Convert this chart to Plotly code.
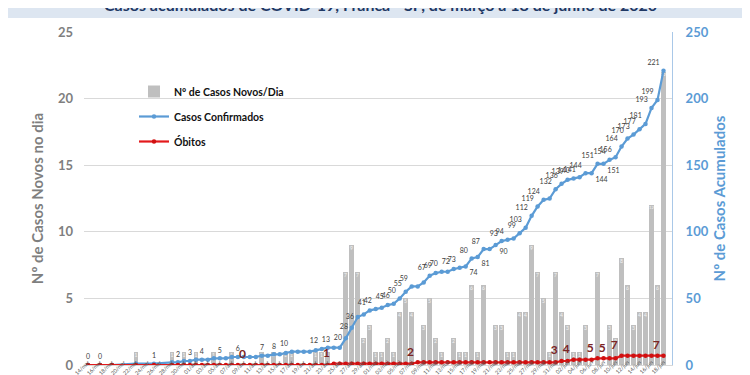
import plotly.graph_objects as go
import pandas as pd

# ---------------- data ----------------
early_dates = ["2020-03-14", "2020-03-16", "2020-03-18", "2020-03-22", "2020-03-25"]
daily_dates = [d.strftime("%Y-%m-%d") for d in pd.date_range("2020-03-28", "2020-06-18")]
dates = early_dates + daily_dates

new_cases = [0, 0, 0, 1, 0,
             1, 0, 1, 0, 1, 0, 0, 1, 0, 0,
             1, 0, 0, 0, 0, 1, 0, 1, 0, 1,
             1, 0, 0, 0, 1, 1, 1, 0, 0, 7,
             9, 7, 2, 3, 1, 1, 2, 1, 4, 5,
             4, 0, 3, 5, 2, 1, 0, 2, 1, 1,
             6, 1, 6, 0, 3, 3, 1, 1, 4, 4,
             9, 7, 5, 1, 7, 4, 3, 1, 1, 3,
             0, 7, 0, 3, 2, 8, 6, 3, 4, 4,
             12, 6, 22]

confirmed = [0, 0, 0, 1, 1,
             2, 2, 3, 3, 4, 4, 4, 5, 5, 5,
             6, 6, 6, 6, 6, 7, 7, 8, 8, 9,
             10, 10, 10, 10, 11, 12, 13, 13, 13, 20,
             28, 36, 38, 41, 42, 43, 45, 46, 50, 55,
             59, 59, 62, 67, 69, 70, 70, 72, 73, 74,
             80, 81, 87, 87, 90, 93, 94, 95, 99, 103,
             112, 119, 124, 125, 132, 136, 139, 140, 141, 144,
             144, 151, 151, 154, 156, 164, 170, 173, 177, 181,
             193, 199, 221]

deaths = [0, 0, 0, 0, 0,
          0, 0, 0, 0, 0, 0, 0, 0, 0, 0,
          0, 0, 0, 0, 0, 0, 0, 0, 0, 0,
          0, 0, 0, 0, 0, 0, 0, 1, 1, 1,
          1, 1, 1, 1, 1, 1, 1, 1, 1, 1,
          1, 2, 2, 2, 2, 2, 2, 2, 2, 2,
          2, 2, 2, 2, 2, 2, 2, 2, 2, 2,
          2, 2, 2, 2, 2, 3, 3, 4, 4, 4,
          4, 5, 5, 5, 5, 7, 7, 7, 7, 7,
          7, 7, 7]

confirmed_labelled = ["2020-03-14", "2020-03-16", "2020-03-25", "2020-03-29", "2020-03-31",
                      "2020-04-02", "2020-04-05", "2020-04-08", "2020-04-13", "2020-04-15",
                      "2020-04-17", "2020-04-22", "2020-04-24", "2020-04-26", "2020-04-27",
                      "2020-04-28", "2020-04-30", "2020-05-01", "2020-05-03", "2020-05-04",
                      "2020-05-05", "2020-05-06", "2020-05-07", "2020-05-10", "2020-05-11",
                      "2020-05-12", "2020-05-14", "2020-05-15", "2020-05-16", "2020-05-17",
                      "2020-05-18", "2020-05-19", "2020-05-21", "2020-05-22", "2020-05-23",
                      "2020-05-25", "2020-05-26", "2020-05-27", "2020-05-28", "2020-05-29",
                      "2020-05-31", "2020-06-01", "2020-06-02", "2020-06-03", "2020-06-04",
                      "2020-06-05", "2020-06-06", "2020-06-07", "2020-06-08", "2020-06-09",
                      "2020-06-10", "2020-06-11", "2020-06-12", "2020-06-13", "2020-06-14",
                      "2020-06-15", "2020-06-16", "2020-06-17", "2020-06-18"]
confirmed_below = ["2020-05-16", "2020-05-18", "2020-05-21", "2020-06-06", "2020-06-08"]
confirmed_left = ["2020-04-26", "2020-04-27", "2020-04-28"]
deaths_labelled = ["2020-04-10", "2020-04-24", "2020-05-08", "2020-06-01", "2020-06-03",
                   "2020-06-07", "2020-06-09", "2020-06-11", "2020-06-18"]

tick_dates = pd.date_range("2020-03-14", "2020-06-18", freq="2D")
month_pt = {3: "mar", 4: "abr", 5: "mai", 6: "jun"}
tick_text = [f"{d.day:02d}/{month_pt[d.month]}" for d in tick_dates]

title_text = "Casos acumulados de COVID-19, Franca - SP, de março a 18 de junho de 2020"

# ---------------- layout constants ----------------
W, H = 750, 375
ML, MR, MT, MB = 76, 86, 24, 18
PW, PH = W - ML - MR, H - MT - MB
FONT = "Lato"

def px_x(px):
    return (px - ML) / PW

def px_y(py):
    return (H - MB - py) / PH

cum_text = [str(v) if d in confirmed_labelled else "" for d, v in zip(dates, confirmed)]
cum_pos = []
for d in dates:
    if d in confirmed_below:
        cum_pos.append("bottom right")
    elif d in confirmed_left:
        cum_pos.append("middle left")
    elif d < "2020-04-10":
        cum_pos.append("top center")
    else:
        cum_pos.append("top left")
death_text = [str(v) if d in deaths_labelled else "" for d, v in zip(dates, deaths)]

fig = go.Figure()
fig.add_trace(go.Bar(
    x=dates, y=new_cases, name="Nº de Casos Novos/Dia",
    marker=dict(color="#bfbfbf", line=dict(width=0)),
    width=0.8 * 86400000,
    text=[str(v) if v > 0 else "" for v in new_cases],
    textposition="inside", insidetextanchor="end", textangle=0,
    textfont=dict(size=5, color="#f4f4f4", family=FONT),
    legendgroup="a", hoverinfo="x+y",
))
fig.add_trace(go.Scatter(
    x=dates, y=confirmed, name="Casos Confirmados", yaxis="y2",
    mode="lines+markers+text",
    line=dict(color="#5b9bd5", width=2.2),
    marker=dict(color="#5b9bd5", size=4.5),
    text=cum_text, textposition=cum_pos,
    textfont=dict(size=7, color="#404040", family=FONT),
    legendgroup="b",
))
fig.add_trace(go.Scatter(
    x=dates, y=deaths, name="Óbitos", yaxis="y2",
    mode="lines+markers+text",
    line=dict(color="#e3191c", width=2.2),
    marker=dict(color="#d01010", size=4.5),
    text=death_text, textposition="top left",
    textfont=dict(size=12, color="#7a2424", family=FONT, weight="bold"),
    legendgroup="c",
))

fig.update_layout(
    width=W, height=H,
    margin=dict(l=ML, r=MR, t=MT, b=MB, autoexpand=False),
    paper_bgcolor="white", plot_bgcolor="white",
    font=dict(family=FONT),
    bargap=0,
    showlegend=True,
    legend=dict(x=px_x(126), y=px_y(69), xanchor="left", yanchor="top",
                bgcolor="rgba(0,0,0,0)", font=dict(size=10.5, color="#111111", family=FONT, weight="bold"),
                tracegroupgap=6, itemwidth=30),
    xaxis=dict(type="date", range=["2020-03-13 08:00", "2020-06-19 10:00"],
               tickvals=list(tick_dates), ticktext=tick_text, tickangle=-45,
               tickfont=dict(size=5.5, color="#595959", family=FONT),
               ticklabelstandoff=-9,
               showgrid=False, showline=True, linecolor="#d9d9d9", ticks="",
               automargin=False, zeroline=False),
    yaxis=dict(range=[0, 25], dtick=5, showgrid=True, gridcolor="#d9d9d9",
               tickfont=dict(size=13, color="#7f7f7f", family=FONT, weight="bold"),
               ticklabelstandoff=10, zeroline=False, showline=False, automargin=False,
               title=dict(text="Nº de Casos Novos no dia", standoff=10,
                          font=dict(size=15, color="#7f7f7f", family=FONT, weight="bold"))),
    yaxis2=dict(range=[0, 250], dtick=50, overlaying="y", side="right", showgrid=False,
                tickfont=dict(size=13, color="#5b9bd5", family=FONT, weight="bold"),
                ticklabelstandoff=10, zeroline=False, showline=True, linecolor="#a9c8e8",
                automargin=False,
                title=dict(text="Nº de Casos Acumulados", standoff=6,
                           font=dict(size=15, color="#5b9bd5", family=FONT, weight="bold"))),
    shapes=[dict(type="rect", xref="paper", yref="paper",
                 x0=px_x(-5), x1=px_x(W + 5), y0=px_y(10), y1=px_y(-5),
                 fillcolor="#dde6f1", line=dict(width=0), layer="below")],
    annotations=[dict(text=title_text, xref="paper", yref="paper",
                      x=px_x(372), y=px_y(-3), xanchor="center", yanchor="middle",
                      showarrow=False,
                      font=dict(size=16, color="#1f3864", family=FONT, weight="bold"))],
)

fig.write_html("out.html")
